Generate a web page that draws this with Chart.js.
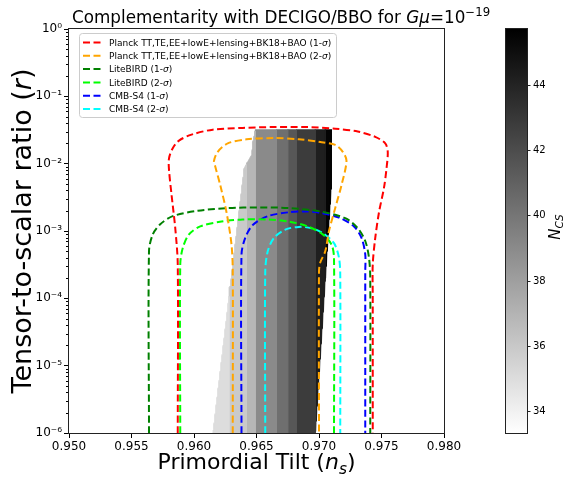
<!DOCTYPE html>
<html>
<head>
<meta charset="utf-8">
<script src="https://cdn.jsdelivr.net/npm/chart.js@4.4.0/dist/chart.umd.min.js"></script>
<style>
  html, body { margin: 0; padding: 0; background: #fff; }
</style>
</head>
<body>
<canvas id="myChart" width="566" height="478"></canvas>
<script>
// axis / colorbar ticks
const xTicks = [0.950, 0.955, 0.960, 0.965, 0.970, 0.975, 0.980];
const yTicks = [1e-6, 1e-5, 1e-4, 1e-3, 1e-2, 1e-1, 1];
const cbTicks = [34, 36, 38, 40, 42, 44];
const cbRange = [33.34, 45.7];

const legendLabels = [
  "Planck TT,TE,EE+lowE+lensing+BK18+BAO (1-σ)",
  "Planck TT,TE,EE+lowE+lensing+BK18+BAO (2-σ)",
  "LiteBIRD (1-σ)",
  "LiteBIRD (2-σ)",
  "CMB-S4 (1-σ)",
  "CMB-S4 (2-σ)",
];
const lineColors = ["#ff0000", "#ffa500", "#008000", "#00ff00", "#0000ff", "#00ffff"];

// contours (n_s, r)
const planck1Ns = [0.9587, 0.9587, 0.9585, 0.9582, 0.9580, 0.9580, 0.9583, 0.9588, 0.9598, 0.9615, 0.9639, 0.9664, 0.9689, 0.9713, 0.9731, 0.9745, 0.9753, 0.9755, 0.9754, 0.9752, 0.9748, 0.9745, 0.9743, 0.9743, 0.9743];
const planck1R = [1e-6, 3.2e-4, 1.1e-3, 3.5e-3, 8.1e-3, 0.012, 0.017, 0.022, 0.027, 0.032, 0.034, 0.035, 0.035, 0.033, 0.030, 0.025, 0.020, 0.015, 8.5e-3, 4.4e-3, 1.9e-3, 7.9e-4, 3.2e-4, 1.1e-4, 1e-6];

const planck2Ns = [0.9631, 0.9631, 0.9630, 0.9626, 0.9621, 0.9617, 0.9616, 0.9619, 0.9627, 0.9642, 0.9664, 0.9684, 0.9701, 0.9713, 0.9719, 0.9722, 0.9718, 0.9713, 0.9708, 0.9705, 0.9701, 0.9700, 0.9700];
const planck2R = [1e-6, 2.5e-4, 6.3e-4, 1.9e-3, 4.8e-3, 9.1e-3, 0.011, 0.015, 0.020, 0.023, 0.024, 0.023, 0.021, 0.019, 0.015, 0.011, 4.8e-3, 2.2e-3, 1.0e-3, 5.0e-4, 3.4e-4, 2.5e-4, 1e-6];

const liteBird1Ns = [0.9564, 0.9564, 0.9567, 0.9573, 0.9583, 0.9603, 0.9627, 0.9652, 0.9676, 0.9701, 0.9721, 0.9731, 0.9737, 0.9740, 0.9741, 0.9741];
const liteBird1R = [1e-6, 5.0e-4, 8.9e-4, 1.26e-3, 1.66e-3, 2.0e-3, 2.19e-3, 2.24e-3, 2.19e-3, 1.95e-3, 1.55e-3, 1.1e-3, 7.1e-4, 4.0e-4, 2.0e-4, 1e-6];

const liteBird2Ns = [0.9589, 0.9589, 0.9591, 0.9596, 0.9605, 0.9622, 0.9639, 0.9659, 0.9676, 0.9691, 0.9703, 0.9710, 0.9712, 0.9712];
const liteBird2R = [1e-6, 3.2e-4, 5.6e-4, 8.9e-4, 1.17e-3, 1.38e-3, 1.48e-3, 1.48e-3, 1.38e-3, 1.17e-3, 8.9e-4, 6.3e-4, 4.0e-4, 1e-6];

const s4OneNs = [0.9638, 0.9638, 0.9641, 0.9647, 0.9659, 0.9676, 0.9689, 0.9701, 0.9716, 0.9728, 0.9734, 0.9737, 0.9737, 0.9737];
const s4OneR = [1e-6, 4.5e-4, 7.9e-4, 1.23e-3, 1.66e-3, 1.9e-3, 1.95e-3, 1.86e-3, 1.58e-3, 1.17e-3, 7.9e-4, 4.5e-4, 2.5e-4, 1e-6];

const s4TwoNs = [0.9657, 0.9657, 0.9659, 0.9664, 0.9673, 0.9684, 0.9694, 0.9703, 0.9712, 0.9716, 0.9717, 0.9717];
const s4TwoR = [1e-6, 2.5e-4, 5.0e-4, 7.9e-4, 1.05e-3, 1.15e-3, 1.1e-3, 9.3e-4, 6.6e-4, 4.0e-4, 2.2e-4, 1e-6];

// N_CS shaded region: edges and bands
const regionTopR = 0.032;
const leftEdgeNs = [0.9615, 0.9640, 0.9646, 0.9647, 0.9649];
const leftEdgeR = [1e-6, 8.5e-3, 0.0135, 0.021, 0.032];
const rightEdgeNs = [0.9697, 0.9710, 0.9710];
const rightEdgeR = [1e-6, 5.4e-3, 0.032];
const bandNsEdges = [0.9600, 0.9628, 0.9642, 0.9649, 0.9666, 0.9675, 0.9682, 0.9697, 0.9705, 0.9720];
const bandN = [35.0, 35.9, 36.9, 39.0, 40.3, 41.5, 42.8, 44.2, 45.5];

const FONT = "'DejaVu Sans', sans-serif";

const gray = (n) => {
  let t = (n - cbRange[0]) / (cbRange[1] - cbRange[0]);
  t = Math.min(1, Math.max(0, t));
  const g = Math.round(255 * (1 - t));
  return `rgb(${g},${g},${g})`;
};

const isDecade = (v) => Math.abs(Math.log10(v) - Math.round(Math.log10(v))) < 1e-6;

const supMap = { "-": "⁻", "0": "⁰", "1": "¹", "2": "²", "3": "³", "4": "⁴", "5": "⁵", "6": "⁶", "7": "⁷", "8": "⁸", "9": "⁹" };
const powLabel = (v) => "10" + String(Math.round(Math.log10(v))).split("").map((c) => supMap[c]).join("");

function nsAt(edgeNs, edgeR, r) {
  const lr = Math.log10(r);
  for (let i = 0; i < edgeR.length - 1; i++) {
    const a = Math.log10(edgeR[i]);
    const b = Math.log10(edgeR[i + 1]);
    if (lr <= b || i === edgeR.length - 2) {
      const t = (lr - a) / (b - a);
      return edgeNs[i] + t * (edgeNs[i + 1] - edgeNs[i]);
    }
  }
}

// build band polygons from the edges
const bandDatasets = bandN.map((n, i) => {
  const a = bandNsEdges[i];
  const b = bandNsEdges[i + 1];
  const left = [];
  const right = [];
  const steps = 200;
  const top = Math.log10(regionTopR);
  for (let k = 0; k <= steps; k++) {
    const r = Math.pow(10, -6 + ((top + 6) * k) / steps);
    const lo = Math.max(a, nsAt(leftEdgeNs, leftEdgeR, r));
    const hi = Math.min(b, nsAt(rightEdgeNs, rightEdgeR, r));
    if (lo < hi) {
      left.push({ x: lo, y: r });
      right.push({ x: hi, y: r });
    }
  }
  const col = gray(n);
  return {
    data: left.concat(right.reverse()),
    backgroundColor: col,
    borderColor: col,
    borderWidth: 0.8,
    fill: "shape",
    tension: 0,
    pointRadius: 0,
    order: 1,
    clip: 0,
  };
});

const contourSets = [
  [planck1Ns, planck1R],
  [planck2Ns, planck2R],
  [liteBird1Ns, liteBird1R],
  [liteBird2Ns, liteBird2R],
  [s4OneNs, s4OneR],
  [s4TwoNs, s4TwoR],
];

const contourDatasets = contourSets.map(([ns, r], i) => ({
  label: legendLabels[i],
  data: ns.map((x, j) => ({ x: x, y: r[j] })),
  borderColor: lineColors[i],
  borderWidth: 2,
  borderDash: [7, 3.5],
  fill: false,
  tension: 0.3,
  pointRadius: 0,
  order: 0,
  clip: 0,
}));

// draw text made of parts: [text, style]
function richText(ctx, parts, x, y, size, align) {
  const fontFor = (st) => {
    const s = st === "sub" || st === "sup" ? size * 0.7 : size;
    const it = st === "i" || st === "sub" ? "italic " : "";
    return it + s + "px " + FONT;
  };
  let w = 0;
  parts.forEach(([t, st]) => {
    ctx.font = fontFor(st);
    w += ctx.measureText(t).width;
  });
  let cx = align === "center" ? x - w / 2 : x;
  ctx.textAlign = "left";
  ctx.textBaseline = "alphabetic";
  parts.forEach(([t, st]) => {
    ctx.font = fontFor(st);
    let dy = 0;
    if (st === "sub") dy = size * 0.22;
    if (st === "sup") dy = -size * 0.42;
    ctx.fillText(t, cx, y + dy);
    cx += ctx.measureText(t).width;
  });
}

const overlay = {
  id: "overlay",
  afterDraw(chart) {
    const { ctx, chartArea: a, scales } = chart;
    const y = scales.y;
    ctx.save();
    ctx.fillStyle = "#000";
    ctx.strokeStyle = "#000";
    ctx.lineWidth = 1;

    // minor y ticks
    y.ticks.forEach((t) => {
      if (!isDecade(t.value)) {
        const py = Math.round(y.getPixelForValue(t.value)) + 0.5;
        ctx.beginPath();
        ctx.moveTo(a.left - 3, py);
        ctx.lineTo(a.left, py);
        ctx.stroke();
      }
    });

    // frame
    ctx.strokeStyle = "#222";
    ctx.strokeRect(a.left - 0.5, a.top - 0.5, a.right - a.left + 1, a.bottom - a.top + 1);

    // title
    ctx.fillStyle = "#000";
    richText(ctx, [["Complementarity with DECIGO/BBO for ", "n"], ["Gμ", "i"], ["=10", "n"], ["−19", "sup"]], 72, 23, 16.8, "left");

    // axis labels
    richText(ctx, [["Primordial Tilt (", "n"], ["n", "i"], ["s", "sub"], [")", "n"]], (a.left + a.right) / 2, 469, 22, "center");
    ctx.save();
    ctx.translate(31, (a.top + a.bottom) / 2);
    ctx.rotate(-Math.PI / 2);
    richText(ctx, [["Tensor-to-scalar ratio (", "n"], ["r", "i"], [")", "n"]], 0, 0, 27, "center");
    ctx.restore();

    // legend box
    const lx = 79, ly = 33, lw = 257, lh = 84;
    ctx.fillStyle = "rgba(255,255,255,0.8)";
    ctx.strokeStyle = "#cccccc";
    ctx.beginPath();
    ctx.roundRect(lx + 0.5, ly + 0.5, lw, lh, 3);
    ctx.fill();
    ctx.stroke();
    legendLabels.forEach((lab, i) => {
      const yc = ly + 9.5 + i * 13.3;
      ctx.strokeStyle = lineColors[i];
      ctx.lineWidth = 2;
      ctx.setLineDash([7, 3.5]);
      ctx.beginPath();
      ctx.moveTo(lx + 4, yc);
      ctx.lineTo(lx + 22, yc);
      ctx.stroke();
      ctx.setLineDash([]);
      ctx.fillStyle = "#000";
      const k = lab.indexOf("σ");
      richText(ctx, [[lab.slice(0, k), "n"], ["σ", "i"], [lab.slice(k + 1), "n"]], lx + 30, yc + 3.3, 9, "left");
    });

    // colorbar
    const cbx = 506, cbw = 21;
    const grad = ctx.createLinearGradient(0, a.bottom, 0, a.top);
    grad.addColorStop(0, gray(cbRange[0]));
    grad.addColorStop(1, gray(cbRange[1]));
    ctx.fillStyle = grad;
    ctx.fillRect(cbx, a.top, cbw, a.bottom - a.top);
    ctx.strokeStyle = "#222";
    ctx.lineWidth = 1;
    ctx.strokeRect(cbx - 0.5, a.top - 0.5, cbw + 1, a.bottom - a.top + 1);
    ctx.fillStyle = "#000";
    cbTicks.forEach((v) => {
      const py = Math.round(a.bottom - ((v - cbRange[0]) / (cbRange[1] - cbRange[0])) * (a.bottom - a.top)) + 0.5;
      ctx.beginPath();
      ctx.moveTo(cbx + cbw, py);
      ctx.lineTo(cbx + cbw + 3.5, py);
      ctx.stroke();
      ctx.font = "10px " + FONT;
      ctx.textAlign = "left";
      ctx.textBaseline = "middle";
      ctx.fillText(String(v), cbx + cbw + 6, py);
    });
    ctx.save();
    ctx.translate(560, 227);
    ctx.rotate(-Math.PI / 2);
    richText(ctx, [["N", "i"], ["CS", "sub"]], 0, 0, 15, "center");
    ctx.restore();

    ctx.restore();
  },
};

const ctx = document.getElementById("myChart").getContext("2d");
const myChart = new Chart(ctx, {
  type: "line",
  data: { datasets: contourDatasets.concat(bandDatasets) },
  options: {
    responsive: false,
    animation: false,
    devicePixelRatio: 1,
    layout: { padding: { left: 0, right: 122, top: 29, bottom: 0 } },
    elements: { point: { radius: 0 } },
    plugins: {
      legend: { display: false },
      tooltip: { enabled: false },
      title: { display: false },
    },
    scales: {
      x: {
        type: "linear",
        min: xTicks[0],
        max: xTicks[xTicks.length - 1],
        afterBuildTicks: (s) => {
          s.ticks = xTicks.map((v) => ({ value: v }));
        },
        afterFit: (s) => {
          s.height = 45;
        },
        ticks: {
          autoSkip: false,
          maxRotation: 0,
          padding: 2,
          color: "#000",
          font: { family: FONT, size: 12 },
          callback: (v) => Number(v).toFixed(3),
        },
        grid: { display: true, drawOnChartArea: false, tickLength: 5, color: "#000" },
        border: { display: false },
      },
      y: {
        type: "logarithmic",
        min: yTicks[0],
        max: yTicks[yTicks.length - 1],
        afterBuildTicks: (s) => {
          const t = [];
          for (let i = 0; i < yTicks.length - 1; i++) {
            for (let m = 1; m <= 9; m++) t.push({ value: m * yTicks[i] });
          }
          t.push({ value: yTicks[yTicks.length - 1] });
          s.ticks = t;
        },
        afterFit: (s) => {
          s.width = 69;
        },
        ticks: {
          autoSkip: false,
          padding: 2,
          color: "#000",
          font: { family: FONT, size: 12 },
          callback: (v) => (isDecade(v) ? powLabel(v) : ""),
        },
        grid: {
          display: true,
          drawOnChartArea: false,
          tickLength: 5,
          color: (c) => (c.tick && isDecade(c.tick.value) ? "#000" : "rgba(0,0,0,0)"),
        },
        border: { display: false },
      },
    },
  },
  plugins: [overlay],
});
</script>
</body>
</html>
